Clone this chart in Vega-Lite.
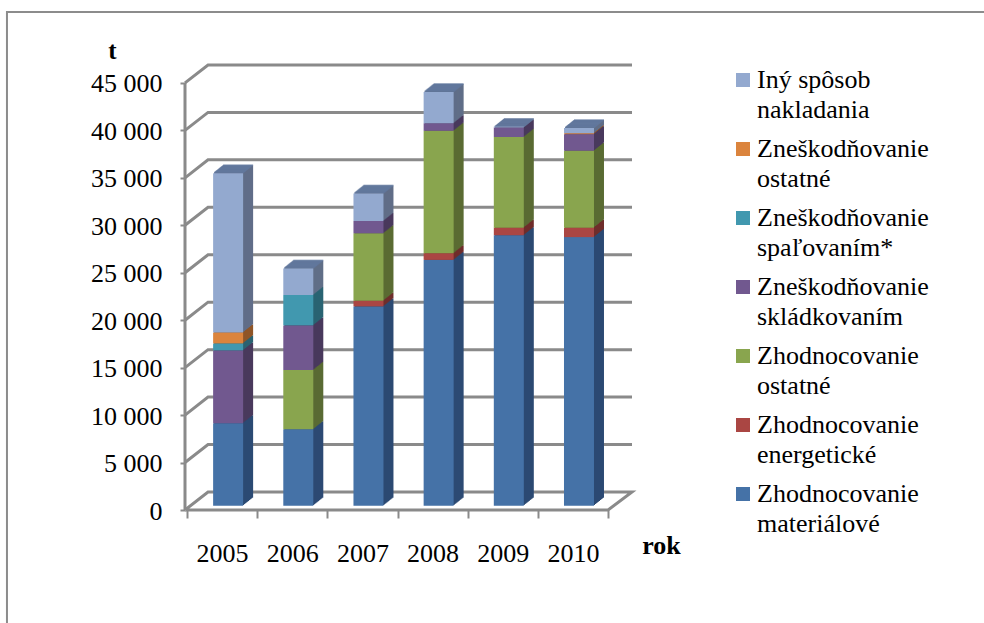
{
"$schema":"https://vega.github.io/schema/vega-lite/v6.json",
"autosize":{"type":"none"},
"padding":{"left":185,"top":65,"right":352,"bottom":113},
"width":447,"height":445,
"background":"white",
"config":{"view":{"stroke":null},"font":"Liberation Serif"},
"datasets":{
"bars":[
{"rok":2005,"s":"Zhodnocovanie materiálové","bok":"materiálové bok","p":1,"v":8700},
{"rok":2005,"s":"Zneškodňovanie skládkovaním","bok":"skládkovaním bok","p":4,"v":7660},
{"rok":2005,"s":"Zneškodňovanie spaľovaním*","bok":"spaľovaním bok","p":5,"v":740},
{"rok":2005,"s":"Zneškodňovanie ostatné","bok":"ostatné z bok","p":6,"v":1150},
{"rok":2005,"s":"Iný spôsob nakladania","bok":"iný bok","p":7,"v":16790},
{"rok":2006,"s":"Zhodnocovanie materiálové","bok":"materiálové bok","p":1,"v":8050},
{"rok":2006,"s":"Zhodnocovanie ostatné","bok":"ostatné h bok","p":3,"v":6250},
{"rok":2006,"s":"Zneškodňovanie skládkovaním","bok":"skládkovaním bok","p":4,"v":4700},
{"rok":2006,"s":"Zneškodňovanie spaľovaním*","bok":"spaľovaním bok","p":5,"v":3200},
{"rok":2006,"s":"Iný spôsob nakladania","bok":"iný bok","p":7,"v":2800},
{"rok":2007,"s":"Zhodnocovanie materiálové","bok":"materiálové bok","p":1,"v":21000},
{"rok":2007,"s":"Zhodnocovanie energetické","bok":"energetické bok","p":2,"v":600},
{"rok":2007,"s":"Zhodnocovanie ostatné","bok":"ostatné h bok","p":3,"v":7100},
{"rok":2007,"s":"Zneškodňovanie skládkovaním","bok":"skládkovaním bok","p":4,"v":1300},
{"rok":2007,"s":"Iný spôsob nakladania","bok":"iný bok","p":7,"v":2900},
{"rok":2008,"s":"Zhodnocovanie materiálové","bok":"materiálové bok","p":1,"v":25900},
{"rok":2008,"s":"Zhodnocovanie energetické","bok":"energetické bok","p":2,"v":700},
{"rok":2008,"s":"Zhodnocovanie ostatné","bok":"ostatné h bok","p":3,"v":12900},
{"rok":2008,"s":"Zneškodňovanie skládkovaním","bok":"skládkovaním bok","p":4,"v":800},
{"rok":2008,"s":"Iný spôsob nakladania","bok":"iný bok","p":7,"v":3300},
{"rok":2009,"s":"Zhodnocovanie materiálové","bok":"materiálové bok","p":1,"v":28500},
{"rok":2009,"s":"Zhodnocovanie energetické","bok":"energetické bok","p":2,"v":800},
{"rok":2009,"s":"Zhodnocovanie ostatné","bok":"ostatné h bok","p":3,"v":9550},
{"rok":2009,"s":"Zneškodňovanie skládkovaním","bok":"skládkovaním bok","p":4,"v":1000},
{"rok":2009,"s":"Iný spôsob nakladania","bok":"iný bok","p":7,"v":100},
{"rok":2010,"s":"Zhodnocovanie materiálové","bok":"materiálové bok","p":1,"v":28300},
{"rok":2010,"s":"Zhodnocovanie energetické","bok":"energetické bok","p":2,"v":1000},
{"rok":2010,"s":"Zhodnocovanie ostatné","bok":"ostatné h bok","p":3,"v":8100},
{"rok":2010,"s":"Zneškodňovanie skládkovaním","bok":"skládkovaním bok","p":4,"v":1750},
{"rok":2010,"s":"Zneškodňovanie ostatné","bok":"ostatné z bok","p":6,"v":100},
{"rok":2010,"s":"Iný spôsob nakladania","bok":"iný bok","p":7,"v":550}
],
"tops":[
{"rok":2005,"spolu":35040},{"rok":2006,"spolu":25000},{"rok":2007,"spolu":32900},
{"rok":2008,"spolu":43600},{"rok":2009,"spolu":39900},{"rok":2010,"spolu":39800}
],
"wall":[
{"l":"g0","i":1,"a":2004.471,"b":0},{"l":"g0","i":2,"a":2004.799,"b":1897},{"l":"g0","i":3,"a":2010.841,"b":1897},{"l":"g0","i":4,"a":2010.5,"b":0},{"l":"g0","i":5,"a":2004.471,"b":0},
{"l":"g5","i":1,"a":2004.471,"b":5000},{"l":"g5","i":2,"a":2004.799,"b":6897},{"l":"g5","i":3,"a":2010.841,"b":6897},
{"l":"g10","i":1,"a":2004.471,"b":10000},{"l":"g10","i":2,"a":2004.799,"b":11897},{"l":"g10","i":3,"a":2010.841,"b":11897},
{"l":"g15","i":1,"a":2004.471,"b":15000},{"l":"g15","i":2,"a":2004.799,"b":16897},{"l":"g15","i":3,"a":2010.841,"b":16897},
{"l":"g20","i":1,"a":2004.471,"b":20000},{"l":"g20","i":2,"a":2004.799,"b":21897},{"l":"g20","i":3,"a":2010.841,"b":21897},
{"l":"g25","i":1,"a":2004.471,"b":25000},{"l":"g25","i":2,"a":2004.799,"b":26897},{"l":"g25","i":3,"a":2010.841,"b":26897},
{"l":"g30","i":1,"a":2004.471,"b":30000},{"l":"g30","i":2,"a":2004.799,"b":31897},{"l":"g30","i":3,"a":2010.841,"b":31897},
{"l":"g35","i":1,"a":2004.471,"b":35000},{"l":"g35","i":2,"a":2004.799,"b":36897},{"l":"g35","i":3,"a":2010.841,"b":36897},
{"l":"g40","i":1,"a":2004.471,"b":40000},{"l":"g40","i":2,"a":2004.799,"b":41897},{"l":"g40","i":3,"a":2010.841,"b":41897},
{"l":"g45","i":1,"a":2004.471,"b":45000},{"l":"g45","i":2,"a":2004.799,"b":46890},{"l":"g45","i":3,"a":2010.841,"b":46890},
{"l":"os","i":1,"a":2004.471,"b":0},{"l":"os","i":2,"a":2004.471,"b":45000}
],
"ram":[{"i":1,"a":2001.934,"b":-11907},{"i":2,"a":2001.934,"b":52476},{"i":3,"a":2015.858,"b":52476}]
},
"layer":[
{"data":{"name":"ram"},"mark":{"type":"line","color":"#8c8c8c","strokeWidth":2,"clip":false},
 "encoding":{"x":{"field":"a","type":"quantitative","scale":{"domain":[2004.471,2010.841],"nice":false,"zero":false,"padding":0},
   "axis":{"values":[2004.5,2005.5,2006.5,2007.5,2008.5,2009.5,2010.5],"labelExpr":"datum.value>2010?'':toString(datum.value+0.5)","labelOffset":35,"domain":false,"grid":false,"labelAngle":0,"tickColor":"#8a8a8a","tickWidth":2,"tickSize":8,"labelFontSize":26,"labelColor":"black","labelPadding":35,"labelBaseline":"middle","labelFlush":false,"labelOverlap":false,"title":"rok","titleFontSize":26,"titleFontWeight":"bold","titleColor":"black","titleX":476,"titleY":35,"titleAlign":"center","titleBaseline":"middle"}},
  "y":{"field":"b","type":"quantitative","scale":{"domain":[0,46890],"nice":false},
   "axis":{"values":[0,5000,10000,15000,20000,25000,30000,35000,40000,45000],"labelExpr":"replace(format(datum.value,','),',',' ')","grid":false,"domain":false,"tickColor":"#8a8a8a","tickWidth":2,"tickSize":5,"labelFontSize":26,"labelColor":"black","labelPadding":18,"labelOffset":1,"title":"t","titleFontSize":25,"titleFontWeight":"bold","titleColor":"black","titleAngle":0,"titleX":-73,"titleY":-15,"titleAlign":"center","titleBaseline":"middle"}},
  "order":{"field":"i"}}},
{"data":{"name":"wall"},"mark":{"type":"line","color":"#8a8a8a","strokeWidth":3,"strokeJoin":"miter","clip":false},
 "encoding":{"x":{"field":"a","type":"quantitative","scale":{"domain":[2004.471,2010.841],"nice":false,"zero":false,"padding":0}},
  "y":{"field":"b","type":"quantitative","scale":{"domain":[0,46890],"nice":false}},
  "detail":{"field":"l"},"order":{"field":"i"}}},
{"data":{"name":"bars"},
 "encoding":{
  "x":{"field":"rok","type":"quantitative","scale":{"domain":[2004.471,2010.841],"nice":false,"zero":false,"padding":0}},
  "y":{"field":"v","type":"quantitative","stack":"zero","scale":{"domain":[0,46890],"nice":false}},
  "order":{"field":"p","type":"quantitative"},
  "color":{"field":"bok","type":"nominal",
   "scale":{"domain":["Zhodnocovanie materiálové","Zhodnocovanie energetické","Zhodnocovanie ostatné","Zneškodňovanie skládkovaním","Zneškodňovanie spaľovaním*","Zneškodňovanie ostatné","Iný spôsob nakladania","materiálové bok","energetické bok","ostatné h bok","skládkovaním bok","spaľovaním bok","ostatné z bok","iný bok"],
   "range":["#4572a7","#aa4643","#89a54e","#71588f","#4198af","#db843d","#93a9cf","#2c4a73","#6f2d2b","#5a6b33","#49395d","#2a6372","#8f5628","#606e88"]}}
 },
 "layer":[
  {"mark":{"type":"bar","orient":"vertical","width":30,"xOffset":16,"yOffset":-12.3}},
  {"mark":{"type":"bar","orient":"vertical","width":30,"xOffset":15,"yOffset":-11.5}},
  {"mark":{"type":"bar","orient":"vertical","width":30,"xOffset":14,"yOffset":-10.7}},
  {"mark":{"type":"bar","orient":"vertical","width":30,"xOffset":13,"yOffset":-9.9}},
  {"mark":{"type":"bar","orient":"vertical","width":30,"xOffset":12,"yOffset":-9.1}},
  {"mark":{"type":"bar","orient":"vertical","width":30,"xOffset":11,"yOffset":-8.3}},
  {"mark":{"type":"bar","orient":"vertical","width":30,"xOffset":10,"yOffset":-7.5}},
  {"mark":{"type":"bar","orient":"vertical","width":30,"xOffset":9,"yOffset":-6.7}},
  {"mark":{"type":"bar","orient":"vertical","width":30,"xOffset":8,"yOffset":-5.9}},
  {"mark":{"type":"bar","orient":"vertical","width":30,"xOffset":7,"yOffset":-5.1}},
  {"data":{"name":"tops"},"encoding":{"y":{"field":"spolu","type":"quantitative","stack":null,"scale":{"domain":[0,46890],"nice":false}},"color":{"value":"#62799f"},"order":{"value":0}},
   "layer":[
    {"mark":{"type":"tick","orient":"horizontal","size":30,"thickness":1.6,"xOffset":16,"yOffset":-12.3}},
    {"mark":{"type":"tick","orient":"horizontal","size":30,"thickness":1.6,"xOffset":15,"yOffset":-11.5}},
    {"mark":{"type":"tick","orient":"horizontal","size":30,"thickness":1.6,"xOffset":14,"yOffset":-10.7}},
    {"mark":{"type":"tick","orient":"horizontal","size":30,"thickness":1.6,"xOffset":13,"yOffset":-9.9}},
    {"mark":{"type":"tick","orient":"horizontal","size":30,"thickness":1.6,"xOffset":12,"yOffset":-9.1}},
    {"mark":{"type":"tick","orient":"horizontal","size":30,"thickness":1.6,"xOffset":11,"yOffset":-8.3}},
    {"mark":{"type":"tick","orient":"horizontal","size":30,"thickness":1.6,"xOffset":10,"yOffset":-7.5}},
    {"mark":{"type":"tick","orient":"horizontal","size":30,"thickness":1.6,"xOffset":9,"yOffset":-6.7}},
    {"mark":{"type":"tick","orient":"horizontal","size":30,"thickness":1.6,"xOffset":8,"yOffset":-5.9}},
    {"mark":{"type":"tick","orient":"horizontal","size":30,"thickness":1.6,"xOffset":7,"yOffset":-5.1}}
   ]}
 ]},
{"data":{"name":"bars"},"mark":{"type":"bar","orient":"vertical","width":30,"xOffset":6,"yOffset":-4.3},
 "encoding":{
  "x":{"field":"rok","type":"quantitative","scale":{"domain":[2004.471,2010.841],"nice":false,"zero":false,"padding":0}},
  "y":{"field":"v","type":"quantitative","stack":"zero","scale":{"domain":[0,46890],"nice":false}},
  "order":{"field":"p","type":"quantitative"},
  "color":{"field":"s","type":"nominal",
    "scale":{"domain":["Zhodnocovanie materiálové","Zhodnocovanie energetické","Zhodnocovanie ostatné","Zneškodňovanie skládkovaním","Zneškodňovanie spaľovaním*","Zneškodňovanie ostatné","Iný spôsob nakladania","materiálové bok","energetické bok","ostatné h bok","skládkovaním bok","spaľovaním bok","ostatné z bok","iný bok"],
    "range":["#4572a7","#aa4643","#89a54e","#71588f","#4198af","#db843d","#93a9cf","#2c4a73","#6f2d2b","#5a6b33","#49395d","#2a6372","#8f5628","#606e88"]},
    "legend":{"title":null,"orient":"none","legendX":545,"legendY":2,"values":["Iný spôsob nakladania","Zneškodňovanie ostatné","Zneškodňovanie spaľovaním*","Zneškodňovanie skládkovaním","Zhodnocovanie ostatné","Zhodnocovanie energetické","Zhodnocovanie materiálové"],
     "symbolType":"square","symbolSize":196,"symbolStrokeWidth":0,"labelFontSize":26,"labelColor":"black","labelLimit":300,"labelOffset":1,
     "labelExpr":"datum.label=='Iný spôsob nakladania'?['Iný spôsob','nakladania']:split(datum.label,' ')",
     "rowPadding":13,
     "encode":{"labels":{"update":{"lineHeight":{"value":30}}}}}}}}
]
}
